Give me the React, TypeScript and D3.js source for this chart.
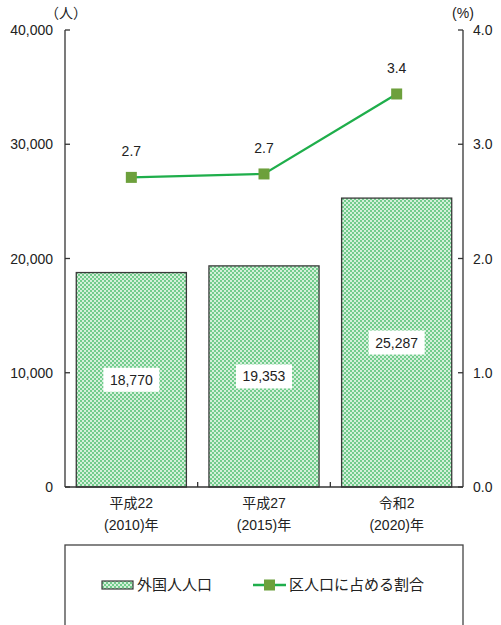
import { useEffect, useRef } from 'react';
import * as d3 from 'd3';

const categories = ['平成22\n(2010)年', '平成27\n(2015)年', '令和2\n(2020)年'];
const foreignPop = [18770, 19353, 25287];
const sharePct = [2.71, 2.74, 3.44];
const leftTicks = [0, 10000, 20000, 30000, 40000];
const rightTicks = [0, 1, 2, 3, 4];

const W = 501;
const H = 625;
const margin = { left: 65, right: 38, top: 30, bottom: 138 };

const App = () => {
  const svgRef = useRef<SVGSVGElement>(null);

  useEffect(() => {
    const svg = d3.select(svgRef.current);
    svg.selectAll('*').remove();
    const font = "'Liberation Sans', 'Noto Sans CJK JP', sans-serif";

    const x0 = margin.left;
    const x1 = W - margin.right;
    const y0 = H - margin.bottom;
    const y1 = margin.top;

    const x = d3.scaleBand<number>().domain(d3.range(categories.length)).range([x0, x1]).paddingInner(0.17).paddingOuter(0.085);
    const yL = d3.scaleLinear().domain([0, 40000]).range([y0, y1]);
    const yR = d3.scaleLinear().domain([0, 4]).range([y0, y1]);

    const defs = svg.append('defs');
    const pat = defs
      .append('pattern')
      .attr('id', 'chk')
      .attr('width', 4)
      .attr('height', 4)
      .attr('patternUnits', 'userSpaceOnUse');
    pat.append('rect').attr('width', 4).attr('height', 4).attr('fill', '#d4f0da');
    pat.append('rect').attr('width', 2).attr('height', 2).attr('fill', '#72cc8c');
    pat.append('rect').attr('x', 2).attr('y', 2).attr('width', 2).attr('height', 2).attr('fill', '#72cc8c');

    // bars
    svg
      .append('g')
      .selectAll('rect')
      .data(foreignPop)
      .join('rect')
      .attr('x', (_, i) => x(i)!)
      .attr('y', (d) => yL(d))
      .attr('width', x.bandwidth())
      .attr('height', (d) => y0 - yL(d))
      .attr('fill', 'url(#chk)')
      .attr('stroke', '#3a3a3a')
      .attr('stroke-width', 1.3);

    // bar value labels
    const fmt = d3.format(',');
    const lbl = svg.append('g');
    foreignPop.forEach((d, i) => {
      const cx = x(i)! + x.bandwidth() / 2;
      const cy = yL(d / 2);
      lbl.append('rect').attr('x', cx - 28).attr('y', cy - 12).attr('width', 56).attr('height', 24).attr('fill', '#fff');
      lbl
        .append('text')
        .attr('x', cx)
        .attr('y', cy)
        .attr('dy', '0.36em')
        .attr('text-anchor', 'middle')
        .attr('font-family', font)
        .attr('font-size', 14)
        .attr('fill', '#222')
        .text(fmt(d));
    });

    // axes
    const ax = svg.append('g').attr('stroke', '#333').attr('stroke-width', 1.3);
    ax.append('line').attr('x1', x0).attr('x2', x0).attr('y1', y1).attr('y2', y0);
    ax.append('line').attr('x1', x1).attr('x2', x1).attr('y1', y1).attr('y2', y0);
    ax.append('line').attr('x1', x0).attr('x2', x1).attr('y1', y0).attr('y2', y0);
    leftTicks.forEach((t) => {
      ax.append('line').attr('x1', x0).attr('x2', x0 + 5).attr('y1', yL(t)).attr('y2', yL(t));
    });
    rightTicks.forEach((t) => {
      ax.append('line').attr('x1', x1 - 5).attr('x2', x1).attr('y1', yR(t)).attr('y2', yR(t));
    });
    d3.range(1, categories.length).forEach((i) => {
      const bx = x(i)! - (x.step() - x.bandwidth()) / 2;
      ax.append('line').attr('x1', bx).attr('x2', bx).attr('y1', y0 - 5).attr('y2', y0);
    });

    const txt = svg.append('g').attr('font-family', font).attr('font-size', 14).attr('fill', '#222');
    leftTicks.forEach((t) => {
      txt.append('text').attr('x', x0 - 12).attr('y', yL(t)).attr('dy', '0.36em').attr('text-anchor', 'end').text(fmt(t));
    });
    rightTicks.forEach((t) => {
      txt.append('text').attr('x', x1 + 10).attr('y', yR(t)).attr('dy', '0.36em').text(d3.format('.1f')(t));
    });
    txt.append('text').attr('x', 66).attr('y', 18).attr('text-anchor', 'middle').text('（人）');
    txt.append('text').attr('x', 463).attr('y', 18).attr('text-anchor', 'middle').text('(%)');

    categories.forEach((c, i) => {
      const cx = x(i)! + x.bandwidth() / 2;
      c.split('\n').forEach((line, j) => {
        txt.append('text').attr('x', cx).attr('y', y0 + 21 + j * 22).attr('text-anchor', 'middle').text(line);
      });
    });

    // line
    const lineGen = d3
      .line<number>()
      .x((_, i) => x(i)! + x.bandwidth() / 2)
      .y((d) => yR(d));
    svg.append('path').datum(sharePct).attr('d', lineGen).attr('fill', 'none').attr('stroke', '#1fae4b').attr('stroke-width', 2.3);
    svg
      .append('g')
      .selectAll('rect')
      .data(sharePct)
      .join('rect')
      .attr('x', (_, i) => x(i)! + x.bandwidth() / 2 - 5.5)
      .attr('y', (d) => yR(d) - 5.5)
      .attr('width', 11)
      .attr('height', 11)
      .attr('fill', '#6da03c');
    sharePct.forEach((d, i) => {
      txt
        .append('text')
        .attr('x', x(i)! + x.bandwidth() / 2)
        .attr('y', yR(d) - 26)
        .attr('dy', '0.36em')
        .attr('text-anchor', 'middle')
        .text(d3.format('.1f')(d));
    });

    // legend
    const lg = svg.append('g');
    lg.append('rect').attr('x', x0).attr('y', 545).attr('width', x1 - x0).attr('height', 100).attr('fill', '#fff').attr('stroke', '#444').attr('stroke-width', 1.3);
    lg.append('rect').attr('x', 102).attr('y', 581).attr('width', 31).attr('height', 8).attr('fill', 'url(#chk)').attr('stroke', '#3a3a3a').attr('stroke-width', 1.2);
    lg.append('text').attr('x', 137).attr('y', 585).attr('dy', '0.36em').attr('font-family', font).attr('font-size', 15).attr('fill', '#222').text('外国人人口');
    lg.append('line').attr('x1', 253).attr('x2', 286).attr('y1', 585).attr('y2', 585).attr('stroke', '#1fae4b').attr('stroke-width', 2.3);
    lg.append('rect').attr('x', 264).attr('y', 579.5).attr('width', 11).attr('height', 11).attr('fill', '#6da03c');
    lg.append('text').attr('x', 289).attr('y', 585).attr('dy', '0.36em').attr('font-family', font).attr('font-size', 15).attr('fill', '#222').text('区人口に占める割合');
  }, []);

  return (
    <svg ref={svgRef} width={W} height={H} style={{ position: 'absolute', left: 0, top: 0, background: '#fff' }} />
  );
};

export default App;
